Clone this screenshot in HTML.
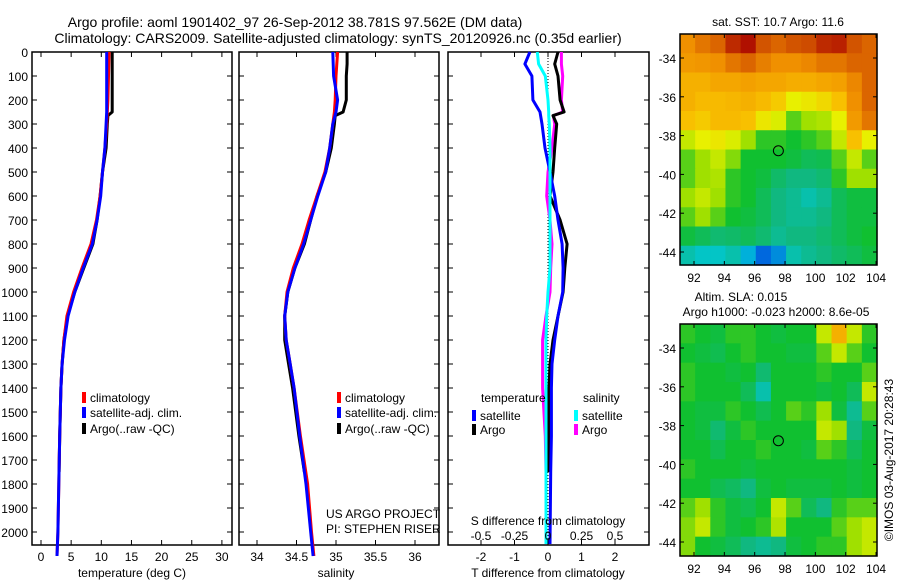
<!DOCTYPE html>
<html><head><meta charset="utf-8"><style>
body{margin:0;background:#fff}
svg{display:block;font-family:"Liberation Sans",sans-serif;font-size:12px}
</style></head><body>
<svg id="c" width="900" height="580" viewBox="0 0 900 580"></svg>
<script>
// ---- data ----
const climDepth=[0,100,200,250,300,400,500,600,700,800,900,1000,1100,1200,1300,1400,1600,1800,2000,2100];
const tempClim=[11.3,11.2,11.1,11.0,10.9,10.6,10.2,9.8,9.2,8.3,6.8,5.4,4.3,3.8,3.5,3.3,3.1,2.95,2.8,2.65];
const tempSat=[10.9,10.9,10.9,10.9,10.8,10.6,10.2,9.9,9.3,8.5,7.0,5.6,4.5,3.9,3.5,3.3,3.1,2.95,2.8,2.65];
const salClim=[35.02,35.0,34.99,34.98,34.96,34.92,34.86,34.76,34.66,34.57,34.46,34.38,34.35,34.37,34.42,34.47,34.55,34.64,34.69,34.72];
const salSat=[34.96,34.97,35.02,35.0,34.96,34.92,34.87,34.77,34.68,34.59,34.48,34.39,34.35,34.37,34.42,34.47,34.54,34.62,34.68,34.71];
const argoDepth=[0,50,100,200,250,265,300,400,500,600,700,800,900,1000,1100,1200,1300,1400,1600,1750];
const tempArgo=[11.8,11.8,11.8,11.8,11.8,11.1,11.0,10.8,10.2,9.8,9.3,8.6,7.1,5.6,4.4,3.8,3.5,3.3,3.1,3.0];
const salArgo=[35.14,35.14,35.13,35.13,35.09,34.99,34.98,34.94,34.87,34.76,34.68,34.6,34.48,34.39,34.35,34.35,34.40,34.45,34.53,34.60];
const diffDepth=[0,50,100,200,250,265,300,400,500,600,700,800,900,1000,1100,1200,1300,1400,1600,1750,2050];
const tDiffSat=[-0.54,-0.69,-0.48,-0.45,-0.24,-0.22,-0.18,-0.09,0.06,0.2,0.3,0.42,0.45,0.44,0.3,0.2,0.12,0.1,0.1,0.08,0.06];
const tDiffArgo=[0.3,0.2,0.3,0.36,0.48,0.15,0.26,0.2,0.15,0.06,0.36,0.57,0.5,0.45,0.3,0.15,0.06,0.03,0.03,0.03,null];
const sDiffSat=[-0.08,-0.07,-0.02,0,0.005,0.005,0.01,0.015,0.015,0.015,0.015,0.015,0.015,0.0,-0.01,-0.015,-0.015,-0.015,-0.015,-0.015,-0.015];
const sDiffArgo=[0.1,0.1,0.11,0.1,0.11,0.04,0.05,0.03,0.0,-0.01,0.015,0.03,0.02,0.015,-0.015,-0.04,-0.04,-0.04,-0.02,-0.015,null];
const depthTicks=[0,100,200,300,400,500,600,700,800,900,1000,1100,1200,1300,1400,1500,1600,1700,1800,1900,2000];
const tempTicks=[0,5,10,15,20,25,30];
const salTicks=[34,34.5,35,35.5,36];
const tDiffTicks=[-2,-1,0,1,2];
const sDiffTicks=[-0.5,-0.25,0,0.25,0.5];
const sDiffLabels=["-0.5","-0.25","0","0.25","0.5"];
const lonTicks=[92,94,96,98,100,102,104];
const latTicks=[-34,-36,-38,-40,-42,-44];
const argoLon=97.562, argoLat=-38.781;
const sstGrid=[
[0.85,0.88,0.9,0.97,1,0.92,0.9,0.92,0.93,0.97,0.98,0.92,0.9],
[0.82,0.83,0.85,0.88,0.9,0.87,0.85,0.85,0.86,0.88,0.88,0.9,0.9],
[0.75,0.75,0.78,0.78,0.8,0.78,0.78,0.76,0.76,0.78,0.8,0.86,0.9],
[0.75,0.72,0.72,0.73,0.75,0.72,0.68,0.6,0.62,0.65,0.7,0.85,0.9],
[0.7,0.68,0.72,0.72,0.7,0.62,0.58,0.45,0.5,0.52,0.6,0.82,0.88],
[0.55,0.6,0.62,0.58,0.5,0.42,0.42,0.4,0.42,0.45,0.55,0.7,0.6],
[0.45,0.5,0.55,0.48,0.4,0.4,0.4,0.38,0.35,0.36,0.45,0.55,0.45],
[0.45,0.5,0.52,0.42,0.4,0.38,0.33,0.3,0.3,0.32,0.42,0.5,0.5],
[0.5,0.55,0.5,0.42,0.4,0.35,0.3,0.28,0.25,0.28,0.35,0.38,0.38],
[0.45,0.5,0.45,0.4,0.38,0.35,0.3,0.28,0.28,0.3,0.35,0.38,0.38],
[0.38,0.35,0.32,0.33,0.35,0.32,0.28,0.3,0.3,0.32,0.35,0.38,0.4],
[0.25,0.22,0.22,0.25,0.18,0.12,0.15,0.25,0.28,0.3,0.33,0.35,0.38]];
const slaGrid=[
[.42,.4,.38,.42,.42,.4,.38,.4,.4,.55,.75,.55,.42],
[.4,.38,.36,.4,.42,.4,.4,.38,.38,.45,.55,.45,.4],
[.42,.4,.4,.38,.4,.32,.4,.4,.4,.42,.4,.4,.45],
[.42,.4,.4,.4,.35,.25,.4,.4,.4,.38,.4,.35,.55],
[.4,.38,.38,.42,.4,.36,.4,.45,.42,.5,.38,.28,.45],
[.4,.38,.32,.38,.42,.4,.4,.4,.4,.55,.5,.3,.38],
[.4,.4,.36,.4,.4,.42,.4,.4,.38,.45,.42,.35,.4],
[.42,.4,.4,.4,.38,.4,.4,.4,.4,.4,.4,.38,.4],
[.4,.4,.36,.34,.3,.38,.4,.38,.38,.38,.4,.38,.4],
[.45,.5,.42,.38,.36,.4,.55,.45,.35,.3,.42,.45,.45],
[.48,.55,.42,.38,.4,.42,.52,.4,.4,.4,.45,.5,.55],
[.48,.4,.38,.35,.3,.28,.3,.38,.4,.42,.42,.5,.55]];

// ---- helpers ----
const svg=document.getElementById('c');const NS='http://www.w3.org/2000/svg';
function mk(tag,at,txt){const e=document.createElementNS(NS,tag);for(const k in at)e.setAttribute(k,at[k]);if(txt!=null)e.textContent=txt;svg.appendChild(e);return e;}
function txt(x,y,s,anchor,name){const e=mk('text',{x:x,y:y,'text-anchor':anchor||'middle',fill:'#000'},s);

return e;}
const Y=d=>52+d*0.24;
const PB=545;
const xT=t=>41+t*6.03, xS=s=>257+(s-34)*79, xTd=t=>548+t*33.5, xSd=s=>548+s*134;
function line(depths,vals,xf,color,name,w){let p='';let pen=false;
for(let i=0;i<depths.length;i++){if(vals[i]==null){pen=false;continue;}p+=(pen?'L':'M')+xf(vals[i]).toFixed(1)+' '+Y(depths[i]).toFixed(1);pen=true;}
const e=mk('path',{d:p,fill:'none',stroke:color,'stroke-width':w||3,'stroke-linejoin':'round'});

}
function frame(x0,x1,name){const e=mk('rect',{x:x0,y:52,width:x1-x0,height:PB-52,fill:'none',stroke:'#000','stroke-width':1.5});


for(const d of depthTicks){mk('line',{x1:x0,x2:x0+5,y1:Y(d),y2:Y(d),stroke:'#000'});mk('line',{x1:x1,x2:x1-5,y1:Y(d),y2:Y(d),stroke:'#000'});}}
function xticks(vals,xf){for(const v of vals){const x=xf(v);mk('line',{x1:x,x2:x,y1:52,y2:57,stroke:'#000'});mk('line',{x1:x,x2:x,y1:PB,y2:PB-5,stroke:'#000'});}}

// titles
const t1=txt(295,27,'Argo profile: aoml 1901402_97 26-Sep-2012 38.781S 97.562E (DM data)','middle','title-line-1');
t1.setAttribute('font-size','14');
const t2=txt(338,43,'Climatology: CARS2009. Satellite-adjusted climatology: synTS_20120926.nc (0.35d earlier)','middle','title-line-2');
t2.setAttribute('font-size','14');
for(const d of depthTicks)txt(28,Y(d)+5,String(d),'end','depth-tick-label');

// panel 1
frame(32,232,'temperature-panel');xticks(tempTicks,xT);
for(const t of tempTicks)txt(xT(t),561,String(t),'middle','temp-tick-label');
txt(132,577,'temperature (deg C)','middle','x-axis-title-temperature');
line(argoDepth,tempArgo,xT,'#000','temp-argo-line');
line(climDepth,tempClim,xT,'#f00','temp-clim-line');
line(climDepth,tempSat,xT,'#00f','temp-sat-line');
// panel 2
frame(239,439,'salinity-panel');xticks(salTicks,xS);
for(const s of salTicks)txt(xS(s),561,String(s),'middle','sal-tick-label');
txt(336,577,'salinity','middle','x-axis-title-salinity');
line(argoDepth,salArgo,xS,'#000','sal-argo-line');
line(climDepth,salClim,xS,'#f00','sal-clim-line');
line(climDepth,salSat,xS,'#00f','sal-sat-line');
txt(326,518,'US ARGO PROJECT','start','project-label');
txt(326,533,'PI: STEPHEN RISER','start','pi-label');
// legends 1&2
function leg(x,y,color,label,name){const r=mk('rect',{x:x,y:y-6,width:4,height:11,fill:color});


txt(x+8,y+4,label,'start',name);}
[[82,'temp'],[337,'sal']].forEach(([lx,n])=>{leg(lx,398,'#f00','climatology',n+'-legend-climatology');leg(lx,413,'#00f','satellite-adj. clim.',n+'-legend-satellite');leg(lx,429,'#000','Argo(..raw -QC)',n+'-legend-argo');});
// panel 3
frame(448,649,'difference-panel');xticks(tDiffTicks,xTd);
mk('line',{x1:548,x2:548,y1:52,y2:PB,stroke:'#000','stroke-dasharray':'1,2'});
line(diffDepth,sDiffArgo,xSd,'#f0f','sdiff-argo-line');
line(diffDepth,tDiffArgo,xTd,'#000','tdiff-argo-line');
line(diffDepth,tDiffSat,xTd,'#00f','tdiff-sat-line');
line(diffDepth,sDiffSat,xSd,'#0ff','sdiff-sat-line');
txt(481,402,'temperature','start','legend-temperature-heading');
txt(583,402,'salinity','start','legend-salinity-heading');
leg(472,416,'#00f','satellite','legend-tdiff-satellite');leg(472,430,'#000','Argo','legend-tdiff-argo');
leg(574,416,'#0ff','satellite','legend-sdiff-satellite');leg(574,430,'#f0f','Argo','legend-sdiff-argo');
txt(548,525,'S difference from climatology','middle','s-diff-axis-title');
sDiffTicks.forEach((s,i)=>txt(xSd(s),540,sDiffLabels[i],'middle','sdiff-tick-label'));
for(const t of tDiffTicks)txt(xTd(t),561,String(t),'middle','tdiff-tick-label');
txt(548,577,'T difference from climatology','middle','t-diff-axis-title');

// maps
const stops=[[0.1,[0,80,224]],[0.2,[0,200,216]],[0.3,[16,184,128]],[0.4,[16,192,48]],[0.5,[160,224,0]],[0.6,[232,240,0]],[0.7,[248,192,0]],[0.85,[240,144,0]],[1.0,[176,16,0]]];
function col(v){if(v<=stops[0][0])return 'rgb('+stops[0][1]+')';for(let i=1;i<stops.length;i++){if(v<=stops[i][0]){const a=stops[i-1],b=stops[i],f=(v-a[0])/(b[0]-a[0]);return 'rgb('+a[1].map((c,j)=>Math.round(c+(b[1][j]-c)*f)).join(',')+')';}}return 'rgb('+stops[stops.length-1][1]+')';}
function map(top,bot,grid,name,lat34y,lat44y){
const x0=680,x1=877;const lx=lon=>694+(lon-92)*15.17;const ly=lat=>lat34y+(-34-lat)*(lat44y-lat34y)/10;
const rows=grid.length,cols=grid[0].length,cw=(x1-x0)/cols,ch=(bot-top)/rows;
grid.forEach((r,i)=>r.forEach((v,j)=>{const e=mk('rect',{x:(x0+j*cw).toFixed(2),y:(top+i*ch).toFixed(2),width:(cw+0.6).toFixed(2),height:(ch+0.6).toFixed(2),fill:col(v)});

}));
const f=mk('rect',{x:x0,y:top,width:x1-x0,height:bot-top,fill:'none',stroke:'#000','stroke-width':1.5});


for(const l of lonTicks){mk('line',{x1:lx(l),x2:lx(l),y1:bot,y2:bot-4,stroke:'#000'});mk('line',{x1:lx(l),x2:lx(l),y1:top,y2:top+4,stroke:'#000'});txt(lx(l),bot+17,String(l),'middle',name+'-lon-label');}
for(const l of latTicks){mk('line',{x1:x0,x2:x0+4,y1:ly(l),y2:ly(l),stroke:'#000'});mk('line',{x1:x1,x2:x1-4,y1:ly(l),y2:ly(l),stroke:'#000'});txt(676,ly(l)+5,String(l),'end',name+'-lat-label');}
const c=mk('circle',{cx:lx(argoLon),cy:ly(argoLat),r:5,fill:'none',stroke:'#000','stroke-width':1});

}
map(34,265,sstGrid,'sst-map',58,252);
map(324,556,slaGrid,'sla-map',348,542);
txt(778,26,'sat. SST: 10.7  Argo: 11.6','middle','sst-map-title');
txt(741,301,'Altim. SLA: 0.015','middle','sla-map-title');
txt(776,316,'Argo h1000: -0.023 h2000: 8.6e-05','middle','sla-map-subtitle');
const r=txt(0,0,'©IMOS 03-Aug-2017 20:28:43','middle','timestamp-label');
r.setAttribute('transform','translate(893,460) rotate(-90)');
</script>
</body></html>
